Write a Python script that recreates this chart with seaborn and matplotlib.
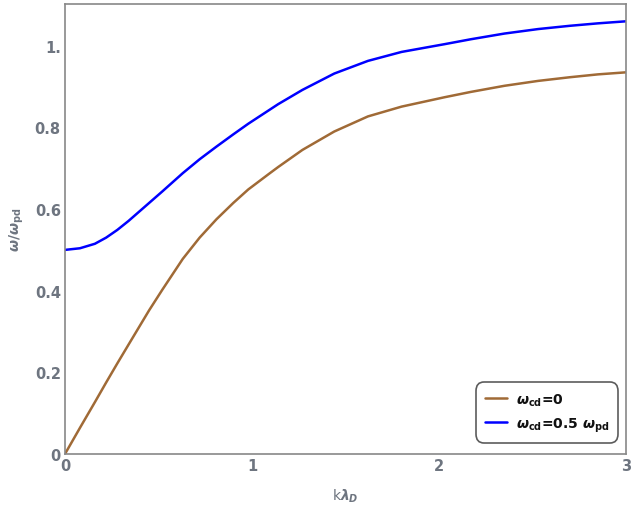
import pandas as pd
import seaborn as sns
import matplotlib
matplotlib.use('Agg')
import matplotlib.pyplot as plt

# values
k = [0, 0.08, 0.16, 0.22, 0.28, 0.34, 0.45, 0.52, 0.63, 0.72, 0.81, 0.9, 0.98,
     1.09, 1.14, 1.27, 1.44, 1.62, 1.8, 2.03, 2.17, 2.35, 2.53, 2.7, 2.85, 3.0]
w_cd0 = [0, 0.064, 0.127, 0.175, 0.222, 0.268, 0.352, 0.402, 0.478, 0.53, 0.575,
         0.615, 0.648, 0.686, 0.703, 0.745, 0.79, 0.827, 0.851, 0.874, 0.887,
         0.902, 0.914, 0.923, 0.93, 0.935]
w_cd05 = [0.5, 0.504, 0.515, 0.53, 0.549, 0.571, 0.615, 0.643, 0.688, 0.722, 0.753,
          0.783, 0.809, 0.842, 0.857, 0.892, 0.932, 0.963, 0.985, 1.004, 1.016,
          1.03, 1.041, 1.049, 1.055, 1.06]
labels = [r'$\omega_{\mathrm{cd}}$=0', r'$\omega_{\mathrm{cd}}$=0.5 $\omega_{\mathrm{pd}}$']

sns.set_style('white')
plt.rcParams['font.family'] = ['DejaVu Sans']
plt.rcParams['mathtext.fontset'] = 'custom'
plt.rcParams['mathtext.it'] = 'DejaVu Sans:bold:italic'
plt.rcParams['mathtext.rm'] = 'DejaVu Sans:bold'
plt.rcParams['mathtext.bf'] = 'DejaVu Sans:bold'

gray = '#6E7580'
df = pd.DataFrame({'k': k + k, 'w': w_cd0 + w_cd05,
                   'case': [labels[0]] * len(k) + [labels[1]] * len(k)})

fig = plt.figure(figsize=(6.32, 5.06), dpi=100)
ax = fig.add_axes([0.1028, 0.1008, 0.8877, 0.889])
sns.lineplot(data=df, x='k', y='w', hue='case', palette=['#A06A36', '#0000FF'],
             linewidth=1.8, ax=ax)

ax.set_xlim(0, 3)
ax.set_ylim(0, 1.102)
ax.set_xticks([0, 1, 2, 3])
ax.set_xticklabels(['0', '1', '2', '3'])
ax.set_yticks([0, 0.2, 0.4, 0.6, 0.8, 1.0])
ax.set_yticklabels(['0', '0.2', '0.4', '0.6', '0.8', '1.'])
ax.tick_params(direction='in', length=4, width=1, color='#888888',
               labelcolor=gray, labelsize=10.5, pad=3)
for lab in ax.get_xticklabels() + ax.get_yticklabels():
    lab.set_fontweight('bold')
for s in ax.spines.values():
    s.set_color('#888888')
    s.set_linewidth(1.2)

ax.set_xlabel(r'k$\lambda_D$', color=gray, fontsize=10, labelpad=10)
ax.set_ylabel(r'$\omega/\omega_{\mathrm{pd}}$', color=gray, fontsize=10, labelpad=6)

leg = ax.legend(loc='lower right', frameon=True, fancybox=True,
                prop={'size': 10, 'weight': 'bold'},
                handlelength=1.6, handletextpad=0.6, borderpad=0.45,
                labelspacing=0.55, bbox_to_anchor=(0.993, 0.016), title=None)
leg.get_frame().set_edgecolor('#333333')
leg.get_frame().set_linewidth(1.2)
leg.get_frame().set_boxstyle('round,pad=0.2,rounding_size=0.6')
for t in leg.get_texts():
    t.set_color('#111111')

fig.savefig('out.png', dpi=100)
